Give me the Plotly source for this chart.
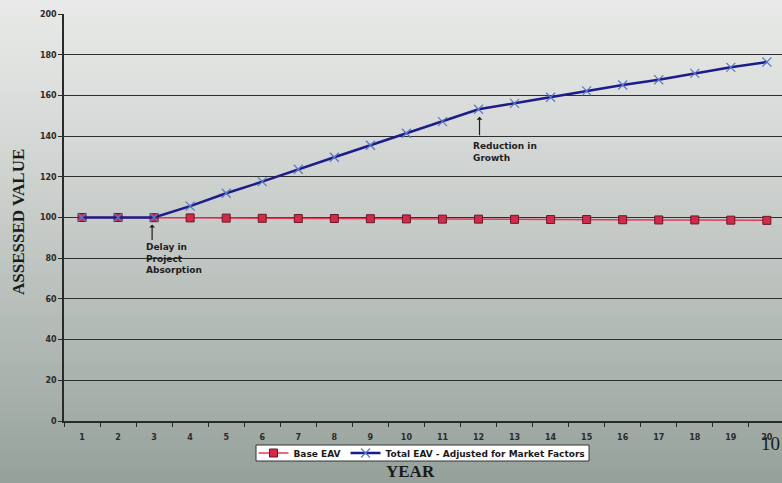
import plotly.graph_objects as go

years = [str(i) for i in range(1, 21)]
base_eav = [100.0, 100.0, 99.9, 99.8, 99.7, 99.6, 99.5, 99.5, 99.4, 99.3,
            99.2, 99.2, 99.1, 99.0, 99.0, 98.9, 98.8, 98.8, 98.7, 98.6]
total_eav = [100.0, 100.0, 100.0, 105.6, 111.9, 117.6, 123.7, 129.6, 135.5, 141.4,
             147.1, 153.2, 156.1, 159.1, 162.2, 165.1, 167.7, 170.8, 173.8, 176.4]
y_ticks = [0, 20, 40, 60, 80, 100, 120, 140, 160, 180, 200]

fig = go.Figure()
fig.add_trace(go.Scatter(
    x=years, y=base_eav, name="Base EAV", mode="lines+markers",
    line=dict(color="#e23a58", width=1.5),
    marker=dict(symbol="square", size=8, color="#d42a4a",
                line=dict(color="#6a1828", width=1)),
))
fig.add_trace(go.Scatter(
    x=years, y=total_eav, name="Total EAV - Adjusted for Market Factors",
    mode="lines+markers",
    line=dict(color="#1c1c8a", width=2.5),
    marker=dict(symbol="x-thin", size=9, color="#5a78c8",
                line=dict(color="#5a78c8", width=1.2)),
))

PW = 718.0  # plot width in px
PH = 407.0  # plot height in px


def px_x(p):
    return (p - 64) / PW


def px_y(p):
    return (421 - p) / PH


# background gradient (scanned page look)
shapes = []
n = 60
top = (232, 233, 232)
bot = (150, 161, 155)
for i in range(n):
    t = i / (n - 1)
    t2 = t ** 1.15
    c = tuple(int(round(top[k] + (bot[k] - top[k]) * t2)) for k in range(3))
    y1 = 1.0 - i / n
    y0 = 1.0 - (i + 1) / n
    shapes.append(dict(type="rect", xref="paper", yref="paper",
                       x0=-0.2, x1=1.2,
                       y0=-0.16 + y0 * 1.2, y1=-0.16 + y1 * 1.2 + 0.002,
                       fillcolor="rgb(%d,%d,%d)" % c, line=dict(width=0),
                       layer="below"))
# legend box (white, compact like the original)
shapes.append(dict(type="rect", xref="paper", yref="paper",
                   x0=px_x(256), x1=px_x(589), y0=px_y(461), y1=px_y(445),
                   fillcolor="white", line=dict(color="#333", width=1),
                   layer="above"))

tick_font = dict(family="DejaVu Sans", size=8, color="#2a2a2a", weight="bold")
ann_font = dict(family="DejaVu Sans", size=9, color="#1e1e1e")

annotations = [
    # arrows (category axis: numeric positions are category indices)
    dict(x=2, y=96.5, xref="x", yref="y", text="", showarrow=True,
         ax=0, ay=17, arrowhead=1, arrowsize=0.8, arrowwidth=1.2,
         arrowcolor="#1e1e1e", xshift=-2),
    dict(x=11, y=149.5, xref="x", yref="y", text="", showarrow=True,
         ax=0, ay=20, arrowhead=1, arrowsize=0.8, arrowwidth=1.2,
         arrowcolor="#1e1e1e", xshift=1),
    dict(x=2, y=89, xref="x", yref="y", text="<b>Delay in<br>Project<br>Absorption</b>",
         showarrow=False, xanchor="left", yanchor="top", align="left",
         xshift=-10, font=ann_font),
    dict(x=11, y=138.5, xref="x", yref="y", text="<b>Reduction in<br>Growth</b>",
         showarrow=False, xanchor="left", yanchor="top", align="left",
         xshift=-8, font=ann_font),
    # axis titles
    dict(text="<b>ASSESSED VALUE</b>", xref="paper", yref="paper",
         x=px_x(18), y=px_y(222), textangle=-90, showarrow=False,
         xanchor="center", yanchor="middle",
         font=dict(family="Liberation Serif", size=17, color="#1a1a1a")),
    dict(text="<b>YEAR</b>", xref="paper", yref="paper",
         x=px_x(410), y=px_y(471), showarrow=False,
         xanchor="center", yanchor="middle",
         font=dict(family="Liberation Serif", size=17, color="#1a1a1a")),
    dict(text="10", xref="paper", yref="paper",
         x=1.0, y=-0.025, showarrow=False, xanchor="right", yanchor="top",
         font=dict(family="Liberation Serif", size=19, color="#1a1a1a")),
]

fig.update_layout(
    width=782, height=483,
    margin=dict(l=64, r=0, t=14, b=62),
    paper_bgcolor="#c4cac6",
    plot_bgcolor="rgba(0,0,0,0)",
    shapes=shapes,
    annotations=annotations,
    showlegend=True,
    legend=dict(orientation="h", x=px_x(422), xanchor="center",
                y=px_y(453), yanchor="middle",
                bgcolor="rgba(0,0,0,0)", borderwidth=0,
                font=dict(family="DejaVu Sans", size=9, color="#1a1a1a", weight="bold"),
                itemwidth=30, tracegroupgap=0),
    xaxis=dict(type="category", range=[-0.5, 19.42],
               showgrid=False, showline=True, linecolor="#2a2a2a", linewidth=1.5,
               ticks="outside", tickson="boundaries", ticklen=4,
               ticklabelstandoff=8,
               tickcolor="#2a2a2a", tickfont=tick_font, zeroline=False,
               fixedrange=True),
    yaxis=dict(range=[0, 200], tickvals=y_ticks,
               showgrid=True, gridcolor="#2f2f2f", gridwidth=1,
               showline=True, linecolor="#2a2a2a", linewidth=1.5,
               ticks="outside", ticklen=4, tickcolor="#2a2a2a",
               tickfont=tick_font, zeroline=False),
    font=dict(family="DejaVu Sans"),
)

fig.write_html("out.html", config={"displayModeBar": False},
               post_script="document.body.style.margin='0';")
